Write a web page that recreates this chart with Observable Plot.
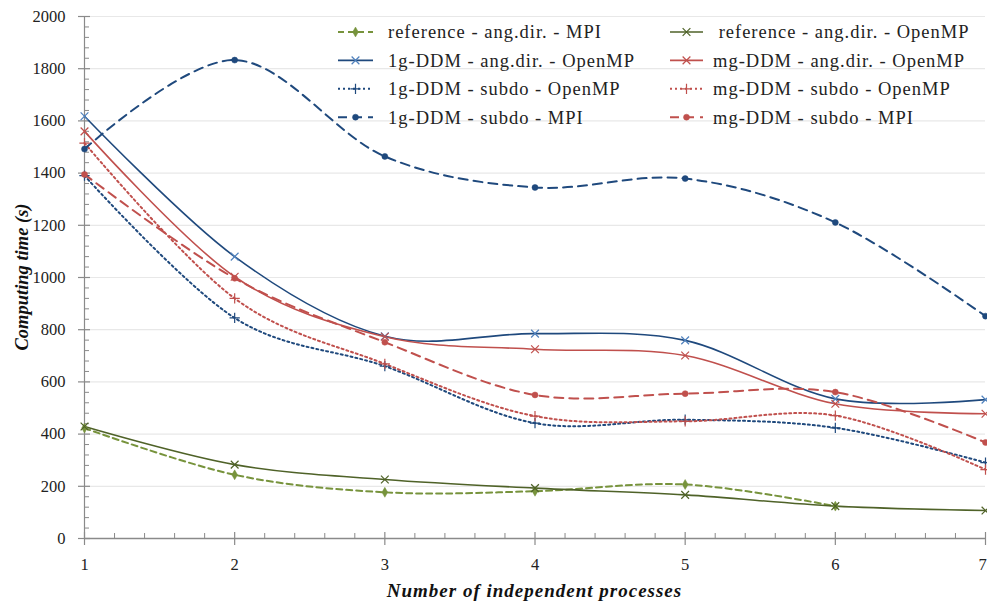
<!DOCTYPE html>
<html>
<head>
<meta charset="utf-8">
<script src="https://cdn.jsdelivr.net/npm/d3@7"></script>
<script src="https://cdn.jsdelivr.net/npm/@observablehq/plot@0.6"></script>
<style>
  html, body { margin: 0; padding: 0; background: #fff; }
  #chart { width: 987px; height: 602px; }
  #chart svg, #chart svg text { font-family: "Liberation Serif", "DejaVu Serif", serif !important; }
</style>
</head>
<body>
<div id="chart"></div>
<script>
// ---- data ----
const processes = [1, 2, 3, 4, 5, 6, 7];
const refMPI   = [423, 244, 177, 181, 207, 124];
const refOMP   = [429, 283, 226, 193, 167, 124, 107];
const g1AngOMP = [1618, 1080, 775, 785, 759, 535, 532];
const mgAngOMP = [1560, 1003, 773, 725, 701, 516, 478];
const g1SubOMP = [1390, 845, 660, 442, 455, 424, 291];
const mgSubOMP = [1515, 920, 669, 469, 449, 471, 264];
const g1SubMPI = [1492, 1833, 1464, 1345, 1379, 1211, 852];
const mgSubMPI = [1395, 997, 752, 550, 555, 561, 368];
const seriesNames = [
  "reference - ang.dir. - MPI", " reference - ang.dir. - OpenMP",
  "1g-DDM - ang.dir. - OpenMP", "mg-DDM - ang.dir. - OpenMP",
  "1g-DDM - subdo - OpenMP", "mg-DDM - subdo - OpenMP",
  "1g-DDM - subdo - MPI", "mg-DDM - subdo - MPI"
];
const yTicks = [0, 200, 400, 600, 800, 1000, 1200, 1400, 1600, 1800, 2000];
const xLabel = "Number of independent processes";
const yLabel = "Computing time (s)";

// ---- styles ----
const BLUE = "#1f497d", LBLUE = "#4f81bd", RED = "#c0504d", DGREEN = "#4f6228", LGREEN = "#77933c";
const styles = [
  {values: refMPI,   stroke: LGREEN, mark: LGREEN, dash: "6,4",  sym: "diamond", r: 3,   w: 2},
  {values: refOMP,   stroke: DGREEN, mark: DGREEN, dash: null,   sym: "times",   r: 3.6, w: 1.6},
  {values: g1AngOMP, stroke: BLUE,   mark: LBLUE,  dash: null,   sym: "times",   r: 3.6, w: 1.6},
  {values: mgAngOMP, stroke: RED,    mark: RED,    dash: null,   sym: "times",   r: 3.6, w: 1.6},
  {values: g1SubOMP, stroke: BLUE,   mark: BLUE,   dash: "2,3",  sym: "plus",    r: 3.4, w: 2},
  {values: mgSubOMP, stroke: RED,    mark: RED,    dash: "2,3",  sym: "plus",    r: 3.4, w: 2},
  {values: g1SubMPI, stroke: BLUE,   mark: BLUE,   dash: "9,6",  sym: "circle",  r: 3,   w: 2},
  {values: mgSubMPI, stroke: RED,    mark: RED,    dash: "9,6",  sym: "circle",  r: 3,   w: 2}
];

const W = 987, H = 602;
const mL = 84, mR = 2, mT = 16, mB = 64;
const frameW = W - mL - mR, frameH = H - mT - mB;
const FONT = "Liberation Serif, DejaVu Serif, serif";

const rows = [];
styles.forEach((s, i) => s.values.forEach((v, j) => rows.push({s: i, x: processes[j], y: v})));

const yMinor = d3.range(0, 2001, 40).filter(v => v % 200 !== 0);
const xMinor = d3.range(1, 7.001, 0.2).map(v => +v.toFixed(2)).filter(v => Math.abs(v - Math.round(v)) > 1e-6);
const lastX = processes[processes.length - 1];

const marks = [
  Plot.ruleY(yTicks.filter(v => v > 0), {stroke: "#e8e8e8", strokeWidth: 1.2}),
  Plot.axisY(yTicks, {tickSize: 0, tickPadding: 19, fontSize: 16.5, fill: "#222", label: null, tickFormat: d => String(d)}),
  Plot.axisX(processes.filter(d => d !== lastX), {tickSize: 0, tickPadding: 20, fontSize: 16.5, fill: "#222", label: null, tickFormat: d => String(d)}),
  Plot.axisX([lastX], {tickSize: 0, tickPadding: 20, fontSize: 16.5, fill: "#222", label: null, dx: -3, tickFormat: d => String(d)}),
  Plot.ruleX([1], {stroke: "#8a8a8a", strokeWidth: 1.2}),
  Plot.ruleY([0], {stroke: "#8a8a8a", strokeWidth: 1.6}),
  Plot.tickY(yTicks, {y: d => d, stroke: "#8a8a8a", strokeWidth: 1.2, insetLeft: -6, insetRight: frameW - 6}),
  Plot.tickY(yMinor, {y: d => d, stroke: "#8a8a8a", strokeWidth: 1, insetLeft: 0, insetRight: frameW - 5}),
  Plot.tickX(processes, {x: d => d, stroke: "#8a8a8a", strokeWidth: 1.2, insetTop: frameH - 6, insetBottom: -7}),
  Plot.tickX(xMinor, {x: d => d, stroke: "#8a8a8a", strokeWidth: 1, insetTop: frameH - 5, insetBottom: 0})
];
styles.forEach((s, i) => {
  const data = rows.filter(r => r.s === i);
  marks.push(Plot.line(data, {x: "x", y: "y", stroke: s.stroke, strokeWidth: s.w,
    strokeDasharray: s.dash || undefined, curve: "cardinal"}));
});
styles.forEach((s, i) => {
  const data = rows.filter(r => r.s === i);
  const filled = s.sym === "circle" || s.sym === "diamond";
  marks.push(Plot.dot(data, {x: "x", y: "y", symbol: () => s.sym, r: s.r,
    fill: filled ? s.mark : "none", stroke: s.mark, strokeWidth: filled ? 0.5 : 1.2}));
});

const chart = Plot.plot({
  width: W, height: H,
  marginLeft: mL, marginRight: mR, marginTop: mT, marginBottom: mB,
  x: {domain: [1, 7], axis: null},
  y: {domain: [0, 2000], axis: null},
  symbol: {type: "identity"},
  style: {fontFamily: FONT, background: "#fff", overflow: "visible"},
  marks
});
document.getElementById("chart").appendChild(chart);

// ---- axis titles & legend ----
const svg = d3.select(chart);
const xs = chart.scale("x"), ys = chart.scale("y");
const xMid = (xs.apply(1) + xs.apply(7)) / 2;
const yMid = (ys.apply(0) + ys.apply(2000)) / 2;
svg.append("text").attr("x", xMid).attr("y", 590).attr("dy", "0.35em")
  .attr("text-anchor", "middle").attr("font-size", 19).attr("letter-spacing", 1)
  .attr("font-style", "italic").attr("font-weight", "bold").attr("fill", "#111").text(xLabel);
svg.append("text").attr("transform", `translate(22,${yMid}) rotate(-90)`).attr("dy", "0.35em")
  .attr("text-anchor", "middle").attr("font-size", 18.5)
  .attr("font-style", "italic").attr("font-weight", "bold").attr("fill", "#111").text(yLabel);

const leg = svg.append("g").attr("text-anchor", "start");
const symMap = {times: d3.symbolTimes, plus: d3.symbolPlus, circle: d3.symbolCircle, diamond: d3.symbolDiamond};
styles.forEach((s, i) => {
  const col = i % 2, row = Math.floor(i / 2);
  const x0 = col === 0 ? 338 : 670, x1 = col === 0 ? 373 : 703;
  const tx = col === 0 ? 388 : 713;
  const y = 32 + row * 28.4;
  leg.append("line").attr("x1", x0).attr("x2", x1).attr("y1", y).attr("y2", y)
    .attr("stroke", s.stroke).attr("stroke-width", s.w)
    .attr("stroke-dasharray", s.dash || null);
  const filled = s.sym === "circle" || s.sym === "diamond";
  leg.append("path").attr("transform", `translate(${(x0 + x1) / 2},${y})`)
    .attr("d", d3.symbol(symMap[s.sym], Math.PI * s.r * s.r)())
    .attr("fill", filled ? s.mark : "none").attr("stroke", s.mark)
    .attr("stroke-width", filled ? 0.5 : 1.2);
  leg.append("text").attr("x", tx).attr("y", y).attr("dy", "0.35em")
    .attr("text-anchor", "start").attr("font-size", 18.5).attr("letter-spacing", 1)
    .attr("fill", "#222").style("white-space", "pre")
    .text(seriesNames[i]);
});
</script>
</body>
</html>
